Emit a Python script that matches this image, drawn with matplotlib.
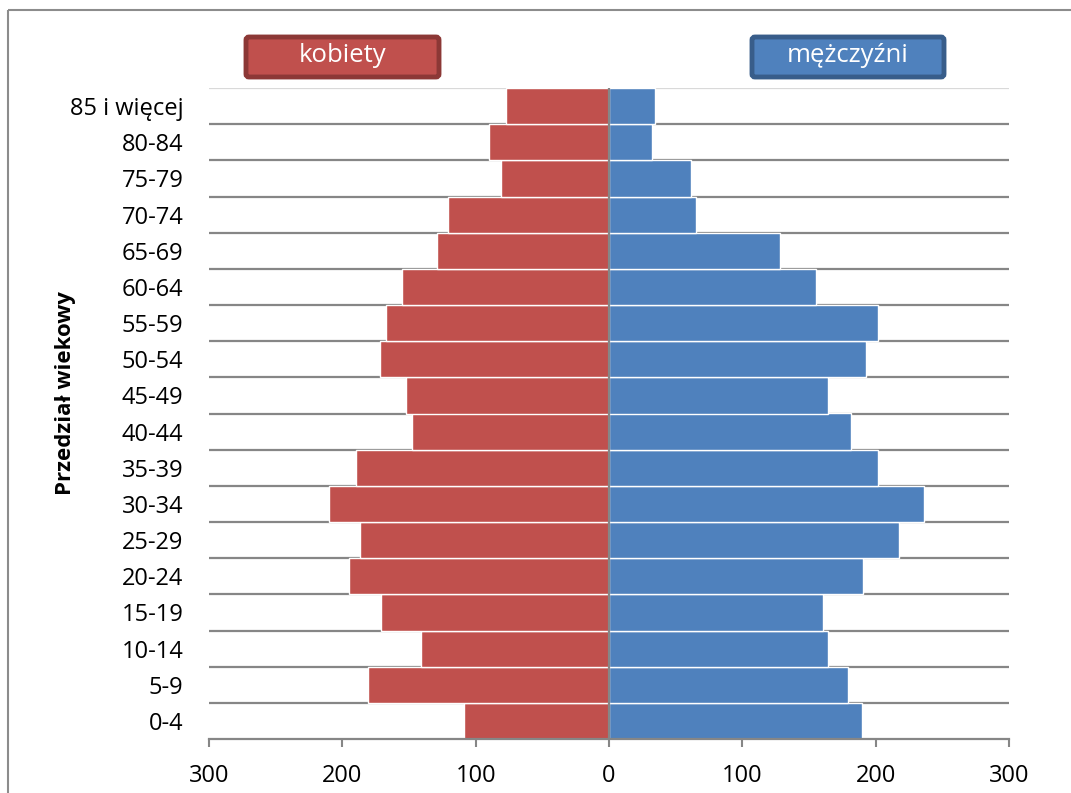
import matplotlib
matplotlib.use("Agg")
import matplotlib.pyplot as plt
from matplotlib.patches import FancyBboxPatch, Rectangle

plt.rcParams["font.family"] = ["Open Sans", "DejaVu Sans"]

# age groups from youngest (bottom) to oldest (top)
age_groups = ["0-4", "5-9", "10-14", "15-19", "20-24", "25-29", "30-34", "35-39",
              "40-44", "45-49", "50-54", "55-59", "60-64", "65-69", "70-74",
              "75-79", "80-84", "85 i więcej"]
women = [109, 181, 141, 171, 195, 187, 210, 190, 148, 152, 172, 167, 155, 129,
         121, 81, 90, 77]
men = [189.5, 179.5, 164.5, 160.5, 190.5, 217.5, 236.5, 201.5, 181.5, 164.5,
       192.5, 201.5, 155.5, 128.5, 65.5, 61.5, 32.5, 34.5]
x_ticks = [-300, -200, -100, 0, 100, 200, 300]

RED, RED_EDGE = "#C0504D", "#8C3836"
BLUE, BLUE_EDGE = "#4F81BD", "#385D8A"
GRID = "#868686"

W, H = 1071, 793
fig = plt.figure(figsize=(W / 100, H / 100), dpi=100)
ax = fig.add_axes([209 / W, 54 / H, 800 / W, 651 / H])

y = list(range(len(age_groups)))
ax.barh(y, [-v for v in women], height=1.0, color=RED, edgecolor="white",
        linewidth=1.0, zorder=2)
ax.barh(y, men, height=1.0, color=BLUE, edgecolor="white", linewidth=1.0, zorder=2)

ax.set_xlim(-300, 300)
ax.set_ylim(-0.5, len(age_groups) - 0.5)

# horizontal grid at group boundaries, behind bars
for b in range(len(age_groups)):
    top = b + 0.5
    col = "#D9D9D9" if b == len(age_groups) - 1 else GRID
    ax.axhline(top, color=col, linewidth=1.6, zorder=1)
ax.axvline(0, color=GRID, linewidth=1.6, zorder=3)

ax.set_yticks(y)
ax.set_yticklabels(age_groups, fontsize=17, color="black")
ax.tick_params(axis="y", length=0, pad=18.5)
ax.set_xticks(x_ticks)
ax.set_xticklabels([str(abs(t)) for t in x_ticks], fontsize=17)
ax.tick_params(axis="x", direction="out", length=6, width=1.5, color=GRID, pad=12)

for s in ["top", "right", "left"]:
    ax.spines[s].set_visible(False)
ax.spines["bottom"].set_color(GRID)
ax.spines["bottom"].set_linewidth(1.6)

# overlay in pixel units for frame, legend boxes, axis title
ov = fig.add_axes([0, 0, 1, 1], zorder=5)
ov.set_xlim(0, W); ov.set_ylim(H, 0); ov.axis("off")
ov.add_patch(Rectangle((8, 10), W + 20, H + 20, fill=False, edgecolor="#8C8C8C",
                       linewidth=1.5))

for (x0, x1, label, fill, edge) in [(246, 439, "kobiety", RED, RED_EDGE),
                                    (752, 944, "mężczyźni", BLUE, BLUE_EDGE)]:
    ov.add_patch(FancyBboxPatch((x0, 37), x1 - x0, 40,
                                boxstyle="round,pad=0,rounding_size=3",
                                facecolor=fill, edgecolor=edge, linewidth=3.5))
    ov.text((x0 + x1) / 2, 56, label, color="white", fontsize=18.5,
            ha="center", va="center")

ov.text(65, 393, "Przedział wiekowy", rotation=90, fontsize=16, fontweight="bold",
        ha="center", va="center")

fig.savefig("out.png", dpi=100, facecolor="white")
